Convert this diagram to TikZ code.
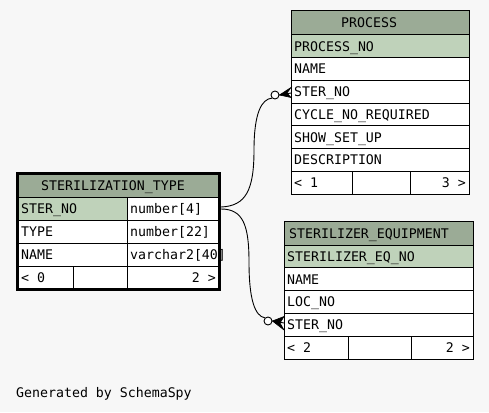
\documentclass[tikz,border=0pt]{standalone}
\usepackage{fontspec}
\newfontfamily\schemafont{DejaVu Sans Mono}
\definecolor{hdr}{RGB}{155,171,150}
\definecolor{pk}{RGB}{191,210,186}
\definecolor{bg}{RGB}{247,247,247}
\begin{document}
\begin{tikzpicture}[x=1pt,y=-1pt,
  font=\schemafont\fontsize{13.25}{15}\selectfont,
  gridline/.style={draw=black, line width=1pt},
  txt/.style={anchor=base west, inner sep=0pt},
  txtr/.style={anchor=base east, inner sep=0pt},
  conn/.style={draw=black, line width=0.9pt},
  odot/.style={circle, draw=black, fill=white, line width=0.9pt, minimum size=8pt, inner sep=0pt},
  crow/.style={fill=black, draw=black, line width=0.6pt, line join=miter}]
\fill[bg] (0,0) rectangle (489,412);
\useasboundingbox (0,0) rectangle (489,412);

% ---------- STERILIZATION_TYPE ----------
\fill[hdr] (18,173) rectangle (219,197);
\fill[pk] (18,197) rectangle (127,220);
\fill[white] (127,197) rectangle (219,220);
\fill[white] (18,220) rectangle (219,289);
\draw[gridline] (18,197) -- (219,197) (18,220) -- (219,220) (18,243) -- (219,243) (18,266) -- (219,266)
  (127,197) -- (127,289) (73,266) -- (73,289);
\node[txt] (sth) at (41,190) {STERILIZATION\_TYPE};
\node[txt] (st1) at (21,213.5) {STER\_NO};
\node[txt] (st1t) at (130,213.5) {number[4]};
\node[txt] (st2) at (21,236.5) {TYPE};
\node[txt] (st2t) at (130,236.5) {number[22]};
\node[txt] (st3) at (21,259.5) {NAME};
\node[txt] (st3t) at (130,259.5) {varchar2[40]};
\node[txt] (stfl) at (21,282.5) {< 0};
\node[txtr] (stfr) at (216,282.5) {2 >};
\draw[line width=3pt] (17.5,173) rectangle (219,289.5);

% ---------- PROCESS ----------
\fill[hdr] (291,11) rectangle (469,35);
\fill[pk] (291,35) rectangle (469,57.7);
\fill[white] (291,57.7) rectangle (469,194);
\draw[gridline] (291,11) rectangle (469,194);
\draw[gridline] (291,35) -- (469,35) (291,57.7) -- (469,57.7) (291,80.4) -- (469,80.4)
  (291,103.1) -- (469,103.1) (291,125.9) -- (469,125.9) (291,148.6) -- (469,148.6)
  (291,171.3) -- (469,171.3) (352,171.3) -- (352,194) (410,171.3) -- (410,194);
\node[txt] (ph) at (341,28) {PROCESS};
\node[txt] (p1) at (294,51.3) {PROCESS\_NO};
\node[txt] (p2) at (294,74) {NAME};
\node[txt] (p3) at (294,96.7) {STER\_NO};
\node[txt] (p4) at (294,119.4) {CYCLE\_NO\_REQUIRED};
\node[txt] (p5) at (294,142.2) {SHOW\_SET\_UP};
\node[txt] (p6) at (294,164.9) {DESCRIPTION};
\node[txt] (pfl) at (294,187.6) {< 1};
\node[txtr] (pfr) at (466,187.6) {3 >};

% ---------- STERILIZER_EQUIPMENT ----------
\fill[hdr] (284,221) rectangle (473,245);
\fill[pk] (284,245) rectangle (473,267.8);
\fill[white] (284,267.8) rectangle (473,359);
\draw[gridline] (284,221) rectangle (473,359);
\draw[gridline] (284,245) -- (473,245) (284,267.8) -- (473,267.8) (284,290.6) -- (473,290.6)
  (284,313.4) -- (473,313.4) (284,336.2) -- (473,336.2) (348,336.2) -- (348,359) (411,336.2) -- (411,359);
\node[txt] (eh) at (289,238) {STERILIZER\_EQUIPMENT};
\node[txt] (e1) at (287,261.3) {STERILIZER\_EQ\_NO};
\node[txt] (e2) at (287,284.1) {NAME};
\node[txt] (e3) at (287,306.9) {LOC\_NO};
\node[txt] (e4) at (287,329.7) {STER\_NO};
\node[txt] (efl) at (287,352.5) {< 2};
\node[txtr] (efr) at (470,352.5) {2 >};

% ---------- connectors ----------
\coordinate (s1) at (221,207);
\coordinate (s2) at (221,209);
\node[odot] (c1) at (275,95) {};
\node[odot] (c2) at (268,321) {};
\draw[conn] (s1) .. controls (246,206) and (254,190) .. (254,150)
  .. controls (254,112) and (262,99) .. (c1.south west);
\draw[conn] (s2) .. controls (243,209) and (249,225) .. (249,262)
  .. controls (249,300) and (255,316) .. (c2.north west);
\draw[crow] (c1.east) -- (291,87.5) -- (287,93) -- (291,97.5) -- cycle;
\draw[conn] (c1.east) -- (291,93);
\draw[crow] (c2.east) -- (284,316.5) -- (280,323) -- (284,330) -- cycle;
\draw[conn] (c2.east) -- (284,323);

\node[txt] (gen) at (16,397.5) {Generated by SchemaSpy};
\end{tikzpicture}
\end{document}
